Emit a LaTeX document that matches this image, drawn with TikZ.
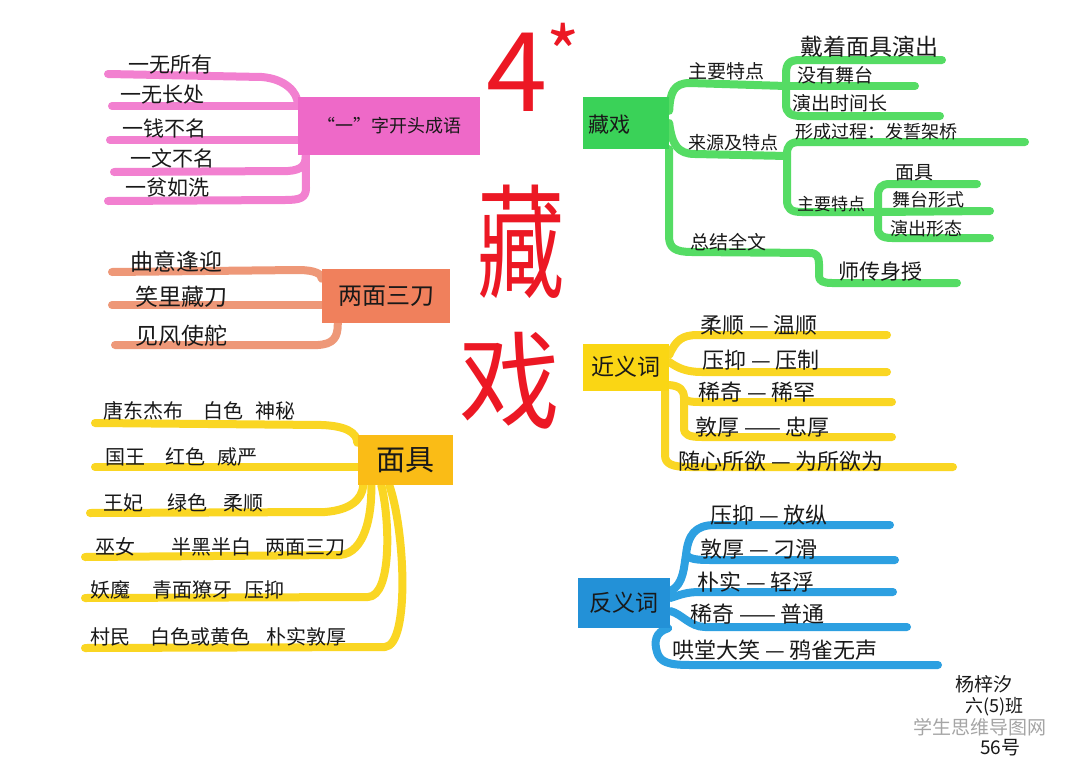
\documentclass[tikz,border=0pt]{standalone}
\usepackage{fontspec}
\newfontfamily\cjk{Noto Sans CJK SC}
\usetikzlibrary{calc,backgrounds}
\definecolor{ink}{RGB}{25,25,25}
\definecolor{redc}{RGB}{236,24,36}
\definecolor{pinkbox}{RGB}{238,105,200}
\definecolor{pinkline}{RGB}{242,128,208}
\definecolor{orbox}{RGB}{240,128,92}
\definecolor{orline}{RGB}{238,152,120}
\definecolor{mjbox}{RGB}{250,188,22}
\definecolor{ylline}{RGB}{250,214,35}
\definecolor{jybox}{RGB}{250,214,20}
\definecolor{grbox}{RGB}{58,210,88}
\definecolor{grline}{RGB}{85,220,100}
\definecolor{blbox}{RGB}{35,145,215}
\definecolor{blline}{RGB}{45,160,225}
\definecolor{wm}{RGB}{165,165,165}
\begin{document}
\begin{tikzpicture}[x=1pt,y=-1pt,
  tx/.style={font=\cjk\fontsize{#1}{#1}\selectfont, anchor=west, inner sep=0pt, text=ink},
  tx/.default=20,
  bx/.style={inner sep=0pt, text=ink},
  ttl/.style={font=\cjk\fontsize{#1}{#1}\selectfont, text=redc, inner sep=0pt},
  br/.style={line width=8pt, line cap=round, line join=round},
  pk/.style={br, draw=pinkline},
  orl/.style={br, draw=orline},
  yll/.style={br, draw=ylline},
  grl/.style={br, draw=grline},
  bll/.style={br, draw=blline}]
\useasboundingbox (0,0) rectangle (1080,766);

% ---------- boxes ----------
\node[bx, fill=pinkbox, minimum width=182pt, minimum height=58pt, font=\cjk\fontsize{18}{18}\selectfont] (pb) at (389,126) {“一”字开头成语};
\node[bx, fill=orbox, minimum width=128pt, minimum height=54pt, font=\cjk\fontsize{24}{24}\selectfont] (ob) at (386,296) {两面三刀};
\node[bx, fill=mjbox, minimum width=95pt, minimum height=50pt, font=\cjk\fontsize{29}{29}\selectfont] (mb) at (405,460) {面具};
\node[bx, fill=grbox, minimum width=86pt, minimum height=52pt] (gb) at (626,123) {};
\node[tx=21] (gbt) at (588,125) {藏戏};
\node[bx, fill=jybox, minimum width=86pt, minimum height=47pt, font=\cjk\fontsize{23}{23}\selectfont] (jb) at (626,367) {近义词};
\node[bx, fill=blbox, minimum width=92pt, minimum height=50pt, font=\cjk\fontsize{23}{23}\selectfont] (fb) at (624,603) {反义词};

% ---------- coordinates ----------
\coordinate (pl1) at (108,74);
\coordinate (pl2) at (112,106);
\coordinate (pl3) at (110,140);
\coordinate (pl4) at (114,172);
\coordinate (pl5) at (108,201);
\coordinate (ol1) at (112,272);
\coordinate (ol2) at (112,305);
\coordinate (ol3) at (115,345);
\coordinate (yl1) at (95,423);
\coordinate (yl2) at (95,467);
\coordinate (yl3) at (90,513);
\coordinate (yl4) at (85,557);
\coordinate (yl5) at (85,598);
\coordinate (yl6) at (85,648);
\coordinate (gk1) at (786,86);
\coordinate (gk2) at (787,156);
\coordinate (gk3) at (877,212);
\coordinate (gs1) at (942,60);
\coordinate (gs2) at (915,86);
\coordinate (gs3) at (940,116);
\coordinate (gs4) at (1025,142);
\coordinate (gs5) at (977,184);
\coordinate (gs6) at (990,211);
\coordinate (gs7) at (990,238);
\coordinate (gs8) at (957,283);
\coordinate (jk) at (684,398);
\coordinate (jl1) at (887,335);
\coordinate (jl2) at (887,372);
\coordinate (jl3) at (892,402);
\coordinate (jl4) at (892,437);
\coordinate (jl5) at (953,467);
\coordinate (fk) at (686,555);
\coordinate (fl1) at (890,525);
\coordinate (fl2) at (895,560);
\coordinate (fl3) at (893,592);
\coordinate (fl4) at (907,627);
\coordinate (fl5) at (938,665);

\begin{pgfonlayer}{background}
\fill[white] (0,0) rectangle (1080,766);
% pink
\draw[pk] (pl1) -- (262,77) .. controls (285,79) and (298,92) .. ($(pb.north west)+(0,8)$);
\draw[pk] (pl2) -- (pl2 -| pb.west);
\draw[pk] (pl3) -- (pl3 -| pb.west);
\draw[pk] (pl4) -- (288,171) .. controls (302,170) and (306,165) .. ($(pb.south west)+(8,0)$);
\draw[pk] ($(pb.south west)+(8,0)$) -- (306,188) .. controls (306,198) and (300,200) .. (285,200) -- (pl5);
% orange
\draw[orl] (ol1) -- (298,270) .. controls (315,270) and (322,274) .. ($(ob.north west)+(0,10)$);
\draw[orl] (ol2) -- (ol2 -| ob.west);
\draw[orl] (ol3) -- (318,345) .. controls (333,344) and (338,338) .. ($(ob.south west)+(16,0)$);
% yellow mask
\draw[yll] (yl1) -- (322,425) .. controls (345,426) and (357,432) .. ($(mb.north west)+(0,8)$);
\draw[yll] (yl2) -- (yl2 -| mb.west);
\draw[yll] (yl3) -- (325,512) .. controls (350,510) and (362,500) .. ($(mb.south west)+(6,0)$);
\draw[yll] (yl4) -- (340,555) .. controls (365,553) and (372,515) .. ($(mb.south west)+(14,0)$);
\draw[yll] (yl5) -- (368,597) .. controls (392,596) and (390,520) .. ($(mb.south west)+(24,0)$);
\draw[yll] (yl6) -- (385,647) .. controls (410,645) and (405,530) .. ($(mb.south west)+(32,0)$);
% green
\draw[grl] ($(gb.north east)+(0,14)$) .. controls (670,92) and (674,83) .. (690,83) -- (gk1);
\draw[grl] (gk1) -- (gs2);
\draw[grl] (gs1) -- (800,60) .. controls (789,60) and (786,64) .. (786,74) -- (786,104) .. controls (786,113) and (790,116) .. (802,116) -- (gs3);
\draw[grl] (gb.east) .. controls (672,145) and (678,154) .. (695,154) -- (gk2);
\draw[grl] (gs4) -- (800,142) .. controls (790,142) and (787,146) .. (787,154) -- (787,200) .. controls (787,209) and (791,212) .. (802,212) -- (gk3);
\draw[grl] (gs5) -- (890,184) .. controls (881,184) and (878,188) .. (878,196) -- (878,228) .. controls (878,235) and (882,238) .. (892,238) -- (gs7);
\draw[grl] (gk3) -- (gs6);
\draw[grl] (gb.south east) -- (669,236) .. controls (669,248) and (675,252) .. (692,252) -- (810,253) .. controls (817,253) and (819,257) .. (819,264) -- (819,276) .. controls (819,281) and (823,283) .. (832,283) -- (gs8);
% near-synonyms
\draw[yll] ($(jb.east)+(0,-12)$) .. controls (676,340) and (682,335) .. (698,335) -- (jl1);
\draw[yll] ($(jb.east)+(0,-5)$) .. controls (678,368) and (686,372) .. (702,372) -- (jl2);
\draw[yll] ($(jb.east)+(0,18)$) .. controls (680,386) and (684,390) .. (jk) -- (684,428) .. controls (684,435) and (689,437) .. (702,437) -- (jl4);
\draw[yll] (jk) .. controls (686,401) and (690,402) .. (700,402) -- (jl3);
\draw[yll] ($(jb.south east)+(-4,0)$) -- (665,455) .. controls (665,464) and (672,467) .. (690,467) -- (jl5);
% antonyms
\draw[bll] ($(fb.east)+(0,-12)$) .. controls (684,585) and (684,565) .. (fk) .. controls (688,535) and (695,525) .. (715,525) -- (fl1);
\draw[bll] (fk) .. controls (690,559) and (696,560) .. (710,560) -- (fl2);
\draw[bll] ($(fb.east)+(0,-5)$) .. controls (680,595) and (686,592) .. (700,592) -- (fl3);
\draw[bll] ($(fb.east)+(0,8)$) .. controls (682,614) and (690,627) .. (705,627) -- (fl4);
\draw[bll] ($(fb.south east)+(-2,0)$) .. controls (655,632) and (654,642) .. (657,652) .. controls (660,662) and (668,665) .. (690,665) -- (fl5);
\end{pgfonlayer}

% ---------- title ----------
\node[ttl=110] (t4) at (517,72) {4};
\node[ttl=72] (tstar) at (563,52) {*};
\node[ttl=112, xscale=0.78, yscale=1.1] (tz) at (521,242) {藏};
\node[ttl=106, xscale=0.95] (tx) at (510,381) {戏};

% ---------- pink leaves ----------
\node[tx=21] (p1) at (128,65) {一无所有};
\node[tx=21] (p2) at (120,95) {一无长处};
\node[tx=21] (p3) at (122,128) {一钱不名};
\node[tx=21] (p4) at (130,158) {一文不名};
\node[tx=21] (p5) at (125,188) {一贫如洗};

% ---------- orange leaves ----------
\node[tx=23] (o1) at (130,262) {曲意逢迎};
\node[tx=23] (o2) at (135,297) {笑里藏刀};
\node[tx=23] (o3) at (135,336) {见风使舵};

% ---------- mask leaves ----------
\node[tx] (m1) at (103,411) {唐东杰布\hspace{20pt}白色\hspace{12pt}神秘};
\node[tx] (m2) at (105,457) {国王\hspace{20pt}红色\hspace{12pt}威严};
\node[tx] (m3) at (103,503) {王妃\hspace{24pt}绿色\hspace{16pt}柔顺};
\node[tx] (m4) at (95,547) {巫女\hspace{36pt}半黑半白\hspace{14pt}两面三刀};
\node[tx] (m5) at (90,590) {妖魔\hspace{22pt}青面獠牙\hspace{12pt}压抑};
\node[tx] (m6) at (90,637) {村民\hspace{20pt}白色或黄色\hspace{16pt}朴实敦厚};

% ---------- green leaves ----------
\node[tx=19] (g1) at (688,71) {主要特点};
\node[tx=23] (g11) at (800,47) {戴着面具演出};
\node[tx=19] (g12) at (797,75) {没有舞台};
\node[tx=19] (g13) at (792,103) {演出时间长};
\node[tx=18] (g2) at (688,143) {来源及特点};
\node[tx=18] (g21) at (795,132) {形成过程：发誓架桥};
\node[tx=17] (g22) at (797,204) {主要特点};
\node[tx=19] (g221) at (895,173) {面具};
\node[tx=18] (g222) at (892,200) {舞台形式};
\node[tx=18] (g223) at (890,229) {演出形态};
\node[tx=19] (g3) at (690,242) {总结全文};
\node[tx=21] (g31) at (838,272) {师传身授};

% ---------- near-synonyms ----------
\node[tx=22] (j1) at (700,325) {柔顺 — 温顺};
\node[tx=22] (j2) at (702,360) {压抑 — 压制};
\node[tx=22] (j3) at (698,392) {稀奇 — 稀罕};
\node[tx=22] (j4) at (695,427) {敦厚 —— 忠厚};
\node[tx=22] (j5) at (678,461) {随心所欲 — 为所欲为};

% ---------- antonyms ----------
\node[tx=22] (f1) at (710,515) {压抑 — 放纵};
\node[tx=22] (f2) at (700,549) {敦厚 — 刁滑};
\node[tx=22] (f3) at (697,582) {朴实 — 轻浮};
\node[tx=22] (f4) at (690,614) {稀奇 —— 普通};
\node[tx=22] (f5) at (672,650) {哄堂大笑 — 鸦雀无声};

% ---------- signature ----------
\node[tx=19] (s1) at (955,684) {杨梓汐};
\node[tx=18] (s2) at (965,707) {六(5)班};
\node[tx=19] (s3) at (980,748) {56号};
\node[tx=19, text=wm] (wmk) at (913,727) {学生思维导图网};
\end{tikzpicture}
\end{document}
